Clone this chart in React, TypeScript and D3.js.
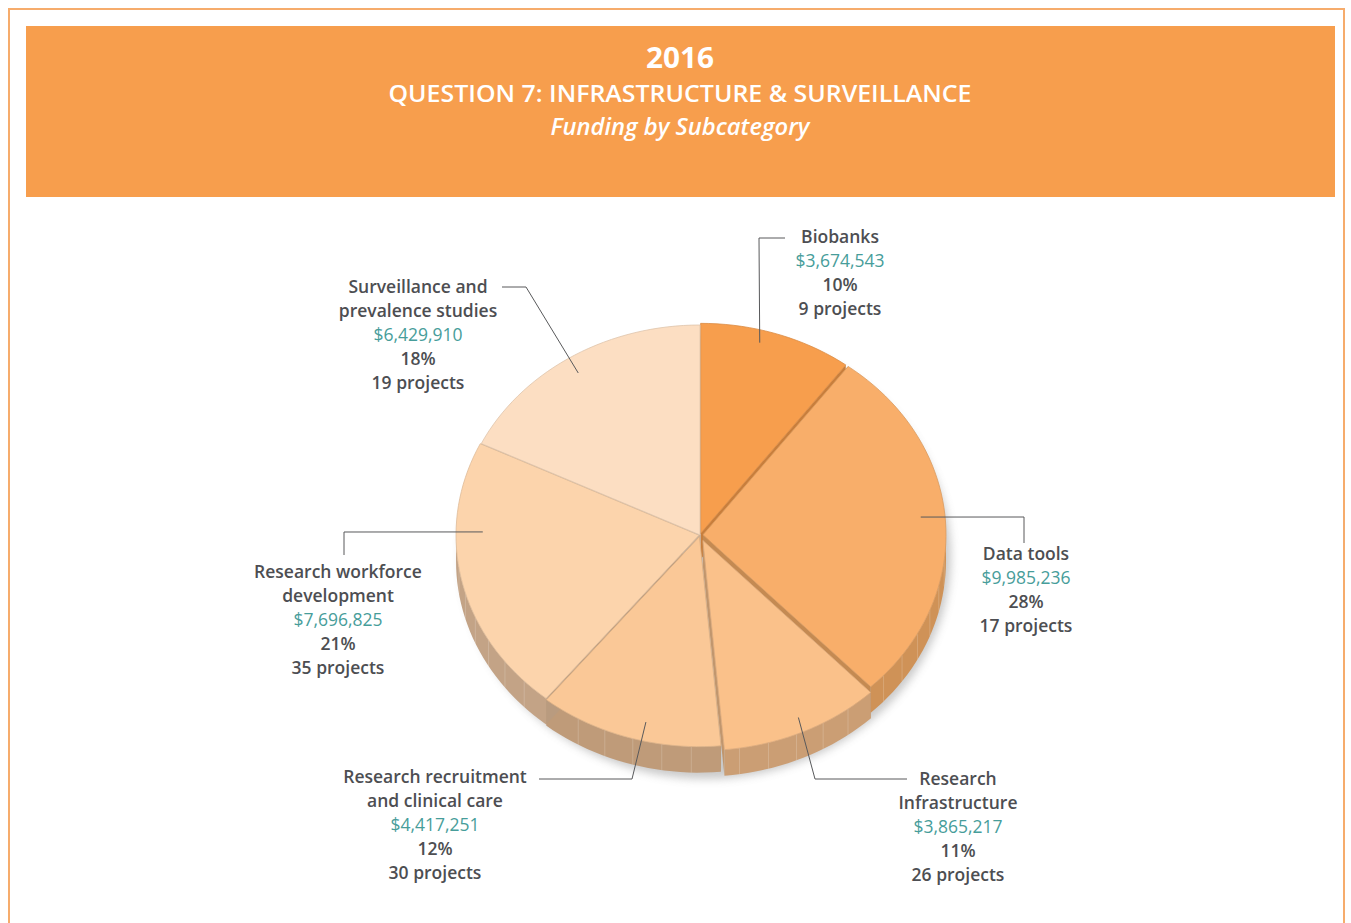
import { useMemo } from "react"
import * as d3 from "d3"

// slice data, clockwise from 12 o'clock
const categories = [
  "Biobanks",
  "Data tools",
  "Research Infrastructure",
  "Research recruitment and clinical care",
  "Research workforce development",
  "Surveillance and prevalence studies",
]
const labelLines = [
  ["Biobanks"],
  ["Data tools"],
  ["Research", "Infrastructure"],
  ["Research recruitment", "and clinical care"],
  ["Research workforce", "development"],
  ["Surveillance and", "prevalence studies"],
]
const funding = [3674543, 9985236, 3865217, 4417251, 7696825, 6429910]
const percents = ["10%", "28%", "11%", "12%", "21%", "18%"]
const projects = [9, 17, 26, 30, 35, 19]

const topColors = ["#F79E4D", "#F8AE6A", "#FAC18A", "#FAC897", "#FCD4AC", "#FCDEC2"]
const sideColors = ["#D3853F", "#CF9257", "#CB9E74", "#BF9B79", "#C3A386", "#CDB7A2"]
const explode = [2, 3, 7, 2, 1, 0]

// annotation layout: anchor on the pie (angle in deg, radius fraction), elbow, end, text block
const labelLayout = [
  { a: 15, r: 0.94, elbow: [759, 238], end: [785, 238], tx: 840, ty: 243 },
  { a: 84.6, r: 0.9, elbow: [1024, 517], end: [1024, 543], tx: 1026, ty: 560 },
  { a: 155, r: 0.93, elbow: [815, 779], end: [907, 779], tx: 958, ty: 785 },
  { a: 194, r: 0.91, elbow: [632, 779], end: [539, 779], tx: 435, ty: 783 },
  { a: 271, r: 0.89, elbow: [344, 532], end: [344, 555], tx: 338, ty: 578 },
  { a: 327, r: 0.92, elbow: [526, 287], end: [502, 287], tx: 418, ty: 293 },
]

const W = 1351
const H = 923
const cx = 700
const cy = 535
const rx = 243
const ry = 210
const depth = 26
const FONT = "'Open Sans', 'Noto Sans', sans-serif"
const TEXT = "#4D4E52"
const TEAL = "#479D9A"
const LINE = "#58595B"

const fmt = d3.format("$,")

type P = [number, number]

const App = () => {
  const slices = useMemo(
    () =>
      d3
        .pie<number>()
        .sort(null)
        .startAngle(0)
        .endAngle(2 * Math.PI)(funding),
    []
  )

  const pt = (a: number, r: number, ox: number, oy: number, dz = 0): P => [
    cx + ox + rx * r * Math.sin(a),
    cy + oy - ry * r * Math.cos(a) + dz,
  ]

  const line = d3.line<P>()

  const arcPts = (a0: number, a1: number, ox: number, oy: number, dz = 0) => {
    const n = Math.max(2, Math.ceil(((a1 - a0) * 180) / Math.PI / 2))
    return d3.range(n + 1).map((i) => pt(a0 + ((a1 - a0) * i) / n, 1, ox, oy, dz))
  }

  const parts = slices.map((s, i) => {
    const mid = (s.startAngle + s.endAngle) / 2
    const ox = explode[i] * Math.sin(mid)
    const oy = -explode[i] * Math.cos(mid) * (ry / rx)
    const c = pt(0, 0, ox, oy)
    const top = line([c, ...arcPts(s.startAngle, s.endAngle, ox, oy)])! + "Z"
    const radial = [s.startAngle, s.endAngle].map((a) => {
      const rim = pt(a, 1, ox, oy)
      return line([c, rim, [rim[0], rim[1] + depth], [c[0], c[1] + depth]])! + "Z"
    })
    const v0 = Math.max(s.startAngle, Math.PI / 2)
    const v1 = Math.min(s.endAngle, (3 * Math.PI) / 2)
    let wall: string | null = null
    let facets: [P, P][] = []
    if (v1 > v0) {
      const upper = arcPts(v0, v1, ox, oy)
      const lower = arcPts(v0, v1, ox, oy, depth).reverse()
      wall = line([...upper, ...lower])! + "Z"
      const step = (7 * Math.PI) / 180
      for (let a = v0 + step; a < v1 - step / 2; a += step) {
        const p = pt(a, 1, ox, oy)
        facets.push([p, [p[0], p[1] + depth]])
      }
    }
    return { i, ox, oy, top, radial, wall, facets }
  })

  return (
    <svg
      width={W}
      height={H}
      style={{ position: "absolute", left: 0, top: 0, background: "#fff" }}
    >
      <defs>
        <filter id="shadowBlur" x="-20%" y="-20%" width="140%" height="140%">
          <feGaussianBlur stdDeviation="4" />
        </filter>
      </defs>

      {/* page frame */}
      <path
        d={`M9,${H} V9 H1344 V${H}`}
        fill="none"
        stroke="#F6AC6C"
        strokeWidth={2}
      />

      {/* header band */}
      <rect x={26} y={26} width={1309} height={171} fill="#F79E4D" />
      <g fill="#fff" textAnchor="middle" fontFamily={FONT}>
        <text x={680} y={68} fontSize={29} fontWeight={700} textLength={68} lengthAdjust="spacingAndGlyphs">
          2016
        </text>
        <text x={680} y={102} fontSize={24} fontWeight={600} textLength={583} lengthAdjust="spacingAndGlyphs">
          QUESTION 7: INFRASTRUCTURE &amp; SURVEILLANCE
        </text>
        <text x={680} y={135} fontSize={23} fontWeight={600} fontStyle="italic" textLength={259} lengthAdjust="spacingAndGlyphs">
          Funding by Subcategory
        </text>
      </g>

      {/* drop shadow */}
      <ellipse
        cx={cx + 6}
        cy={cy + depth / 2 + 8}
        rx={rx + 2}
        ry={ry + depth / 2}
        fill="#8a8a8a"
        opacity={0.45}
        filter="url(#shadowBlur)"
      />

      {/* walls */}
      {parts.map((p) => (
        <g key={`w${p.i}`}>
          {p.radial.map((d, k) => (
            <path key={k} d={d} fill={d3.color(sideColors[p.i])!.darker(0.15).toString()} />
          ))}
          {p.wall && <path d={p.wall} fill={sideColors[p.i]} />}
          {p.facets.map((f, k) => (
            <path key={`f${k}`} d={line(f)!} stroke="#ffffff" strokeOpacity={0.18} strokeWidth={1} />
          ))}
        </g>
      ))}

      {/* top faces */}
      {parts.map((p) => (
        <path
          key={`t${p.i}`}
          d={p.top}
          fill={topColors[p.i]}
          stroke={d3.color(topColors[p.i])!.darker(0.35).toString()}
          strokeWidth={0.8}
          strokeLinejoin="round"
        >
          <title>{categories[p.i]}</title>
        </path>
      ))}

      {/* leader lines and labels */}
      {labelLayout.map((l, i) => {
        const a = (l.a * Math.PI) / 180
        const anchor = pt(a, l.r, parts[i].ox, parts[i].oy)
        const rows = [
          ...labelLines[i].map((t) => ({ t, fill: TEXT, w: 600 })),
          { t: fmt(funding[i]), fill: TEAL, w: 400 },
          { t: percents[i], fill: TEXT, w: 600 },
          { t: `${projects[i]} projects`, fill: TEXT, w: 600 },
        ]
        return (
          <g key={`l${i}`}>
            <path
              d={line([anchor, l.elbow as P, l.end as P])!}
              fill="none"
              stroke={LINE}
              strokeWidth={1}
            />
            <text textAnchor="middle" fontFamily={FONT} fontSize={17.5}>
              {rows.map((r, k) => (
                <tspan key={k} x={l.tx} y={l.ty + k * 24} fill={r.fill} fontWeight={r.w}>
                  {r.t}
                </tspan>
              ))}
            </text>
          </g>
        )
      })}
    </svg>
  )
}

export default App
